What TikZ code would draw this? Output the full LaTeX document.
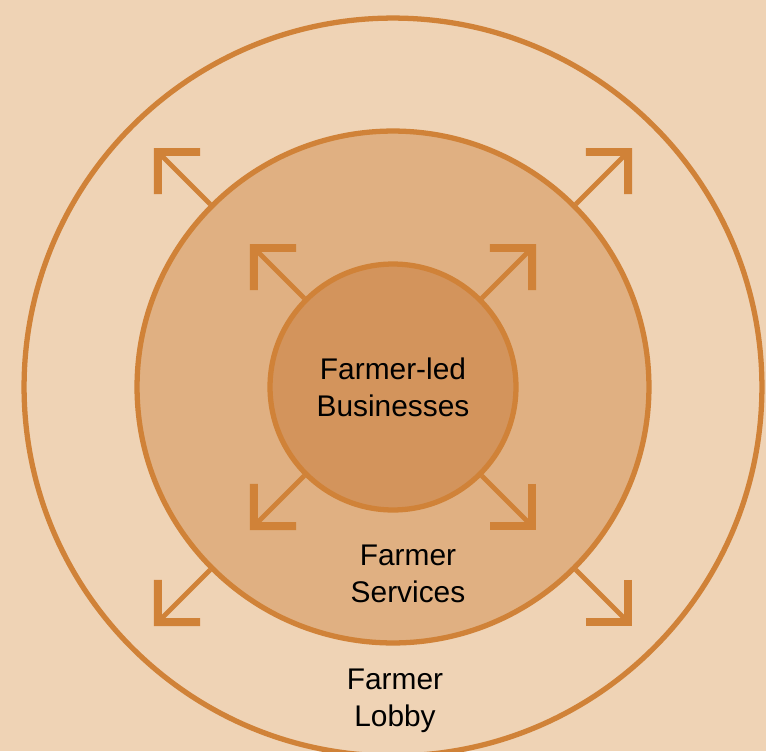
\documentclass[tikz,border=0pt]{standalone}
\usepackage{fontspec}
\setmainfont{Liberation Sans}
\usepackage{xcolor}
\usetikzlibrary{calc, arrows.meta}
\definecolor{lobbybg}{HTML}{EFD3B5}
\definecolor{servfill}{HTML}{E0B082}
\definecolor{bizfill}{HTML}{D3945C}
\definecolor{ringline}{HTML}{D08238}

\begin{document}
\begin{tikzpicture}[x=0.02cm, y=0.02cm,
  ring/.style={circle, draw=ringline, line width=3pt, inner sep=0pt},
  ringtext/.style={align=center, font=\fontsize{17}{21}\selectfont},
  growarrow/.style={draw=ringline, line width=2.8pt,
    -{Straight Barb[angle=90:24pt, line width=4.5pt, sharp]}}]
\fill[lobbybg] (-393,-364) rectangle (373,387);
\useasboundingbox (-393,-364) rectangle (373,387);
% three rings
\node[ring, fill=lobbybg, minimum size=14.76cm] (lobby) at (0,0) {};
\node[ring, fill=servfill, minimum size=10.24cm] (serv) at (0,0) {};
\node[ring, ringtext, fill=bizfill, minimum size=4.92cm] (biz) at (0,0) {Farmer-led\\Businesses};
\node[ringtext] (servtext) at (15,-187) {Farmer\\Services};
\node[ringtext] (lobbytext) at (2,-314) {Farmer\\Lobby};
% growth arrows
\foreach \a/\sx/\sy in {45/1/1, 135/-1/1, 225/-1/-1, 315/1/-1}{
  \coordinate (bizend\a) at (143*\sx,143*\sy);
  \coordinate (servend\a) at (239*\sx,239*\sy);
  \draw[growarrow] (biz.\a) -- (bizend\a);
  \draw[growarrow] (serv.\a) -- (servend\a);
}
\end{tikzpicture}
\end{document}
